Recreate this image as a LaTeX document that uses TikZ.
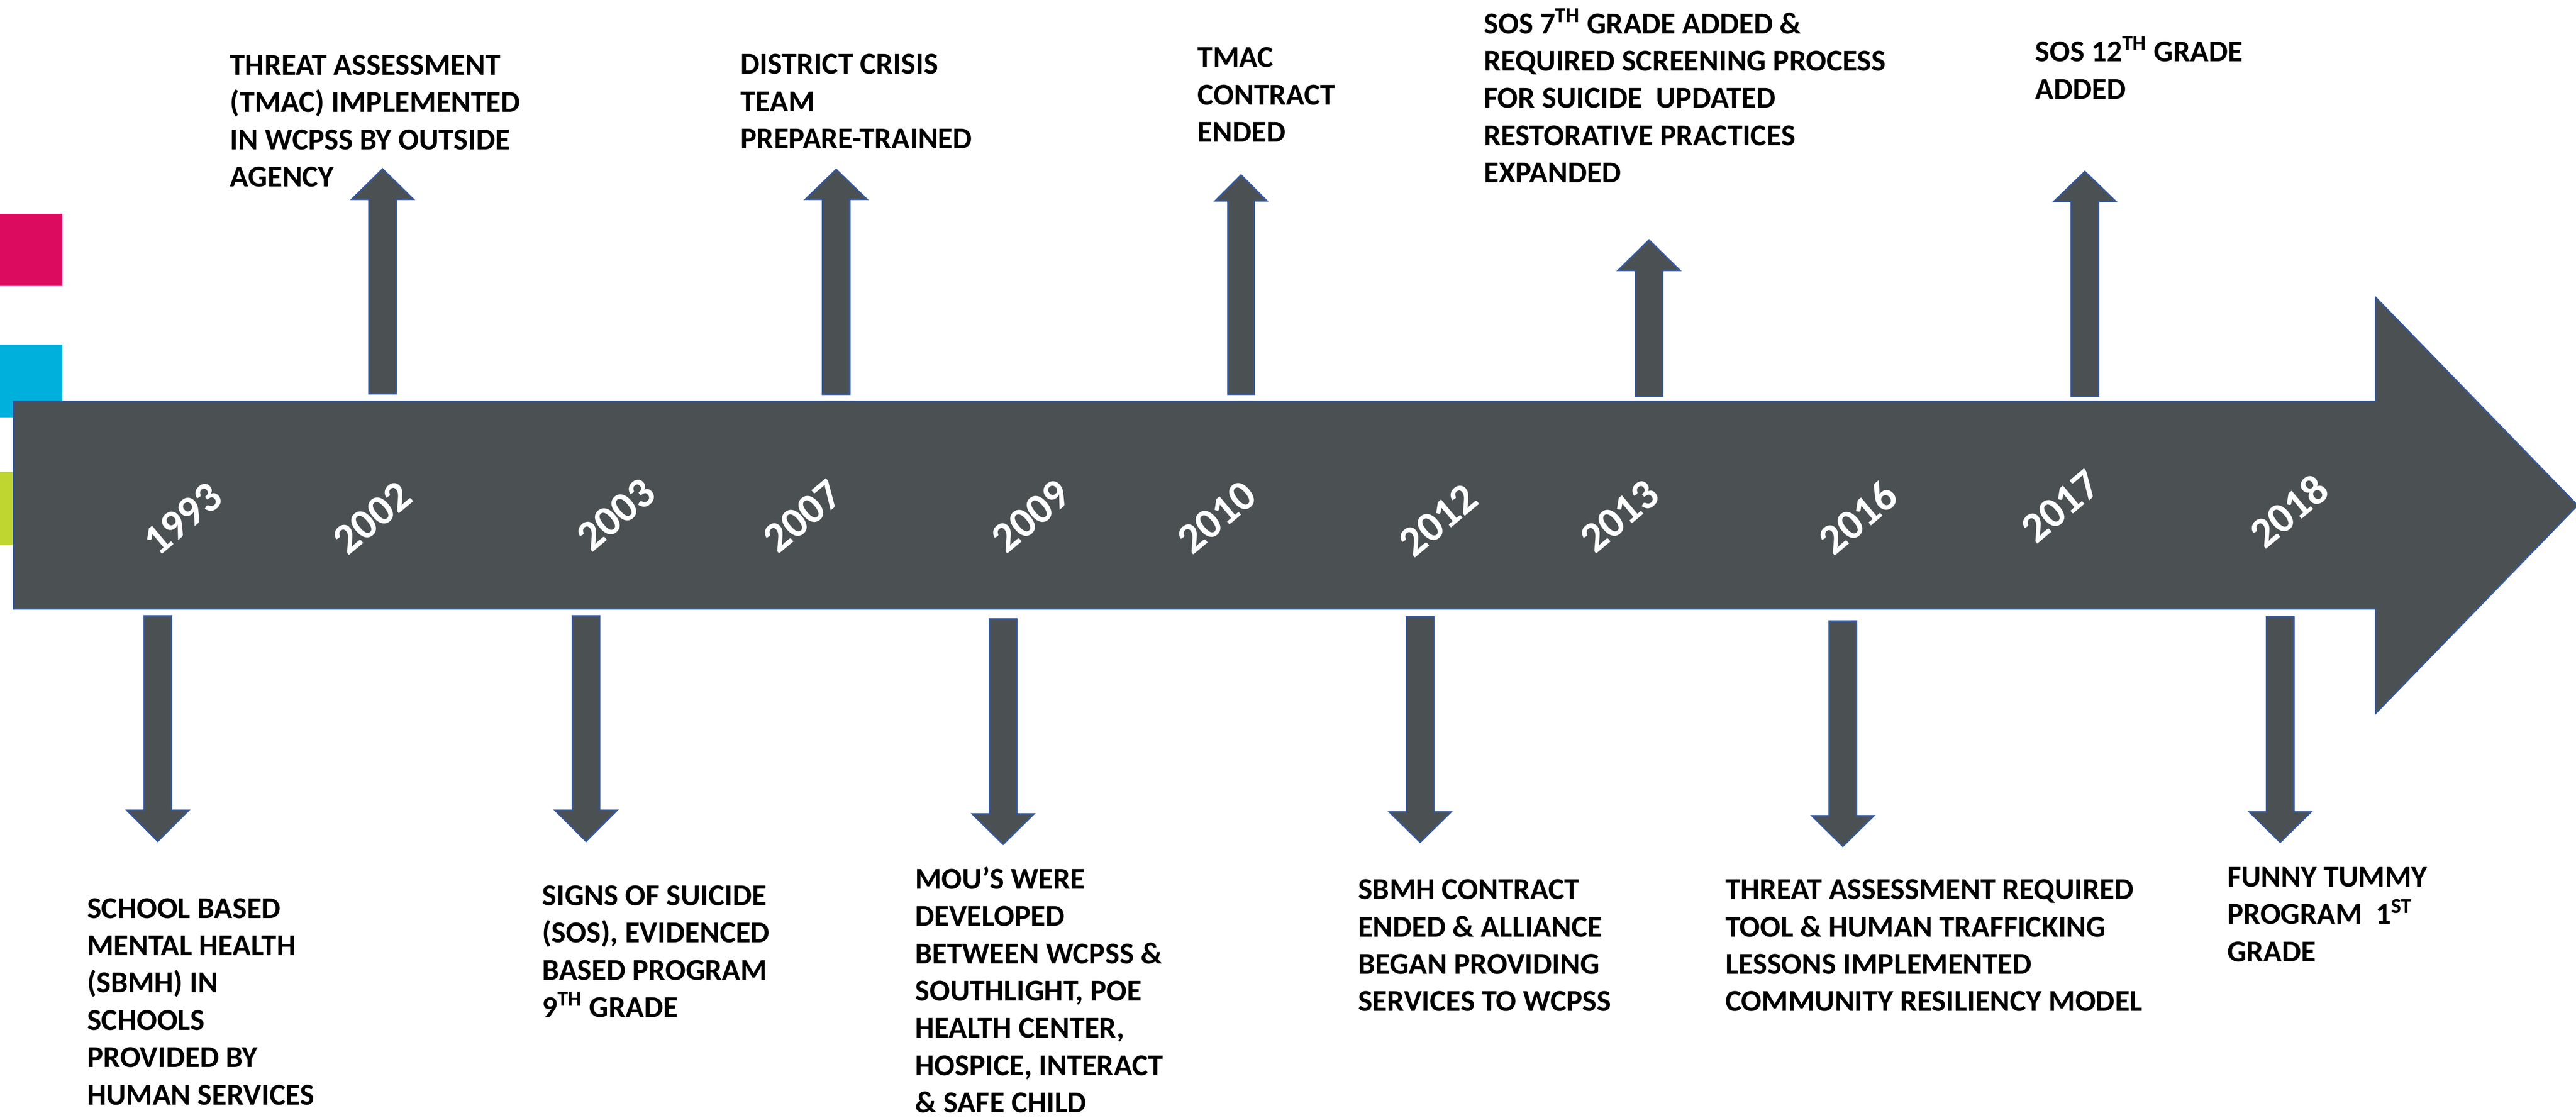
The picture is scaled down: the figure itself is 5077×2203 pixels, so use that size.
\documentclass[tikz,border=0pt]{standalone}
\usepackage{fontspec}
\setmainfont{Carlito}
\definecolor{barcol}{RGB}{75,81,83}
\definecolor{edgecol}{RGB}{52,88,158}
\definecolor{magentabox}{RGB}{220,11,96}
\definecolor{cyanbox}{RGB}{0,176,220}
\definecolor{limebox}{RGB}{192,214,48}

\begin{document}
\begin{tikzpicture}[x=0.01cm, y=-0.01cm,
		timebar/.style={fill=barcol, draw=edgecol, line width=0.8pt},
		year/.style={text=white, font=\fontsize{24}{28}\selectfont\bfseries, rotate=40, inner sep=0pt},
		eventtext/.style={anchor=base west, align=left, inner sep=0pt, font=\fontsize{17}{20.9}\selectfont\bfseries}]
		\useasboundingbox (0,0) rectangle (5077,2203);
		% Colour squares
		\fill[magentabox] (0,421) rectangle (123,564);
		\fill[cyanbox] (0,679) rectangle (123,822);
		\fill[limebox] (0,930) rectangle (123,1074);
		% Main arrow
		\draw[timebar] (27,791) -- (4682,791) -- (4682,586) -- (5080,996) -- (4682,1406) -- (4682,1200) -- (27,1200) -- cycle;
		% Years
		\node[year] (y1993) at (360,1022) {1993};
		\node[year] (y2002) at (734,1020) {2002};
		\node[year] (y2003) at (1214,1014) {2003};
		\node[year] (y2007) at (1582,1017) {2007};
		\node[year] (y2009) at (2032,1017) {2009};
		\node[year] (y2010) at (2398,1019) {2010};
		\node[year] (y2012) at (2835,1025) {2012};
		\node[year] (y2013) at (3192,1017) {2013};
		\node[year] (y2016) at (3662,1020) {2016};
		\node[year] (y2017) at (4061,998) {2017};
		\node[year] (y2018) at (4511,1007) {2018};
		% Up arrows
		\draw[timebar] (727,776) -- (727,393) -- (693,393) -- (754,333) -- (815,393) -- (781,393) -- (781,776) -- cycle;
		\draw[timebar] (1621,777) -- (1621,393) -- (1587,393) -- (1648,334) -- (1709,393) -- (1675,393) -- (1675,777) -- cycle;
		\draw[timebar] (2420,777) -- (2420,396) -- (2395,396) -- (2446,345) -- (2497,396) -- (2472,396) -- (2472,777) -- cycle;
		\draw[timebar] (3223,781) -- (3223,533) -- (3189,533) -- (3250,473) -- (3311,533) -- (3277,533) -- (3277,781) -- cycle;
		\draw[timebar] (4082,781) -- (4082,397) -- (4048,397) -- (4109,338) -- (4170,397) -- (4136,397) -- (4136,781) -- cycle;
		% Down arrows
		\draw[timebar] (284,1214) -- (284,1597) -- (250,1597) -- (311,1658) -- (372,1597) -- (338,1597) -- (338,1214) -- cycle;
		\draw[timebar] (1128,1214) -- (1128,1597) -- (1094,1597) -- (1155,1658) -- (1216,1597) -- (1182,1597) -- (1182,1214) -- cycle;
		\draw[timebar] (1950,1220) -- (1950,1604) -- (1916,1604) -- (1977,1664) -- (2038,1604) -- (2004,1604) -- (2004,1220) -- cycle;
		\draw[timebar] (2772,1216) -- (2772,1600) -- (2738,1600) -- (2799,1660) -- (2860,1600) -- (2826,1600) -- (2826,1216) -- cycle;
		\draw[timebar] (3605,1224) -- (3605,1608) -- (3571,1608) -- (3632,1668) -- (3693,1608) -- (3659,1608) -- (3659,1224) -- cycle;
		\draw[timebar] (4467,1216) -- (4467,1600) -- (4433,1600) -- (4494,1660) -- (4555,1600) -- (4521,1600) -- (4521,1216) -- cycle;
		% Events above (anchored on last line)
		\node[eventtext] (e2002) at (453,368) {THREAT ASSESSMENT\\(TMAC) IMPLEMENTED\\IN WCPSS BY OUTSIDE\\AGENCY};
		\node[eventtext] (e2007) at (1459,293) {DISTRICT CRISIS\\TEAM\\PREPARE-TRAINED};
		\node[eventtext] (e2010) at (2360,280) {TMAC\\CONTRACT\\ENDED};
		\node[eventtext] (e2013) at (2924,360) {SOS 7\textsuperscript{TH} GRADE ADDED \&\\REQUIRED SCREENING PROCESS\\FOR SUICIDE\ \ UPDATED\\RESTORATIVE PRACTICES\\EXPANDED};
		\node[eventtext] (e2017) at (4011,195) {SOS 12\textsuperscript{TH} GRADE\\ADDED};
		% Events below
		\node[eventtext] (e1993) at (171,2177) {SCHOOL BASED\\MENTAL HEALTH\\(SBMH) IN\\SCHOOLS\\PROVIDED BY\\HUMAN SERVICES};
		\node[eventtext] (e2003) at (1068,2005) {SIGNS OF SUICIDE\\(SOS), EVIDENCED\\BASED PROGRAM\\9\textsuperscript{TH} GRADE};
		\node[eventtext] (e2009) at (1803,2193) {MOU’S WERE\\DEVELOPED\\BETWEEN WCPSS \&\\SOUTHLIGHT, POE\\HEALTH CENTER,\\HOSPICE, INTERACT\\\& SAFE CHILD};
		\node[eventtext] (e2012) at (2676,1993) {SBMH CONTRACT\\ENDED \& ALLIANCE\\BEGAN PROVIDING\\SERVICES TO WCPSS};
		\node[eventtext] (e2016) at (3400,1993) {THREAT ASSESSMENT REQUIRED\\TOOL \& HUMAN TRAFFICKING\\LESSONS IMPLEMENTED\\COMMUNITY RESILIENCY MODEL};
		\node[eventtext] (e2018) at (4389,1895) {FUNNY TUMMY\\PROGRAM\ \ 1\textsuperscript{ST}\\GRADE};
	\end{tikzpicture}
\end{document}
